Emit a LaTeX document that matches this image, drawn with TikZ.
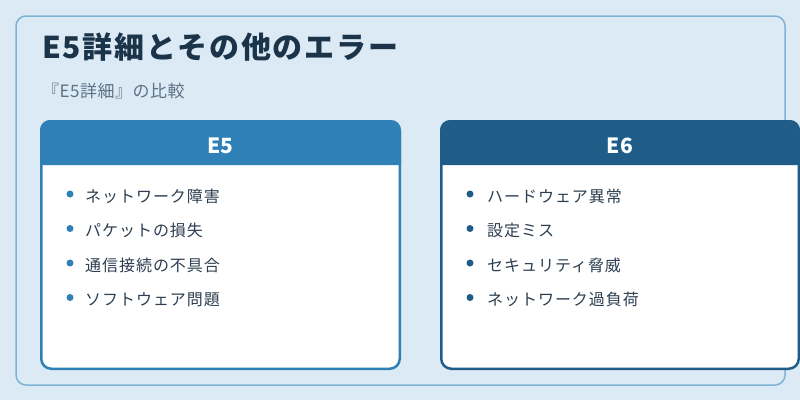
\documentclass[tikz,border=0pt]{standalone}
\usepackage{fontspec}
\setmainfont[LetterSpace=6]{Noto Sans CJK JP}
\newfontfamily\plainjp{Noto Sans CJK JP}
\newfontfamily\subjp[LetterSpace=3]{Noto Sans CJK JP}
\definecolor{bgc}{HTML}{DBEAF5}
\definecolor{outerc}{HTML}{7FB3D5}
\definecolor{leftc}{HTML}{2E80B6}
\definecolor{rightc}{HTML}{1F5D88}
\definecolor{titlec}{HTML}{1B3449}
\definecolor{subc}{HTML}{5D7285}
\definecolor{itemc}{HTML}{2C3E50}
\tikzset{
  titletext/.style={anchor=base west, inner sep=0pt, text=titlec, font=\fontsize{30}{36}\selectfont\bfseries},
  subtext/.style={anchor=base west, inner sep=0pt, text=subc, font=\subjp\fontsize{17}{20}\selectfont},
  headtext/.style={anchor=base, inner sep=0pt, text=white, font=\plainjp\fontsize{21}{25}\selectfont\bfseries},
  itemtext/.style={anchor=base west, inner sep=0pt, text=itemc, font=\fontsize{16}{20}\selectfont},
  bulletdot/.style={circle, inner sep=0pt, minimum size=7pt, fill=#1},
  cardbody/.style={draw=#1, line width=2.5pt, fill=white, rounded corners=10pt},
}
\begin{document}
\begin{tikzpicture}[x=1pt,y=-1pt]
\useasboundingbox (0,0) rectangle (800,400);
\fill[bgc] (0,0) rectangle (800,400);
\draw[outerc, line width=1.5pt, rounded corners=10pt] (16,16) rectangle (785,385);

\node[titletext] (title) at (42,58) {E5詳細とその他のエラー};
\node[subtext] (subtitle) at (42,97) {『E5詳細』の比較};

% left card
\draw[cardbody=leftc] (41.25,121.25) rectangle (399.75,368.75);
\fill[leftc] (40,165) [rounded corners=10pt] -- (40,120) -- (401,120) [sharp corners] -- (401,165) -- cycle;
\node[headtext] (lhead) at (220.5,153) {E5};
\node[bulletdot=leftc] (lb1) at (70,194) {};
\node[bulletdot=leftc] (lb2) at (70,228.5) {};
\node[bulletdot=leftc] (lb3) at (70,263) {};
\node[bulletdot=leftc] (lb4) at (70,297.5) {};
\node[itemtext] (li1) at (85,202) {ネットワーク障害};
\node[itemtext] (li2) at (85,236.5) {パケットの損失};
\node[itemtext] (li3) at (85,271) {通信接続の不具合};
\node[itemtext] (li4) at (85,305.5) {ソフトウェア問題};

% right card
\draw[cardbody=rightc] (441.25,121.25) rectangle (798.75,368.75);
\fill[rightc] (440,165) [rounded corners=10pt] -- (440,120) -- (800,120) [sharp corners] -- (800,165) -- cycle;
\node[headtext] (rhead) at (620,153) {E6};
\node[bulletdot=rightc] (rb1) at (470,194) {};
\node[bulletdot=rightc] (rb2) at (470,228.5) {};
\node[bulletdot=rightc] (rb3) at (470,263) {};
\node[bulletdot=rightc] (rb4) at (470,297.5) {};
\node[itemtext] (ri1) at (487,202) {ハードウェア異常};
\node[itemtext] (ri2) at (487,236.5) {設定ミス};
\node[itemtext] (ri3) at (487,271) {セキュリティ脅威};
\node[itemtext] (ri4) at (487,305.5) {ネットワーク過負荷};
\end{tikzpicture}
\end{document}
